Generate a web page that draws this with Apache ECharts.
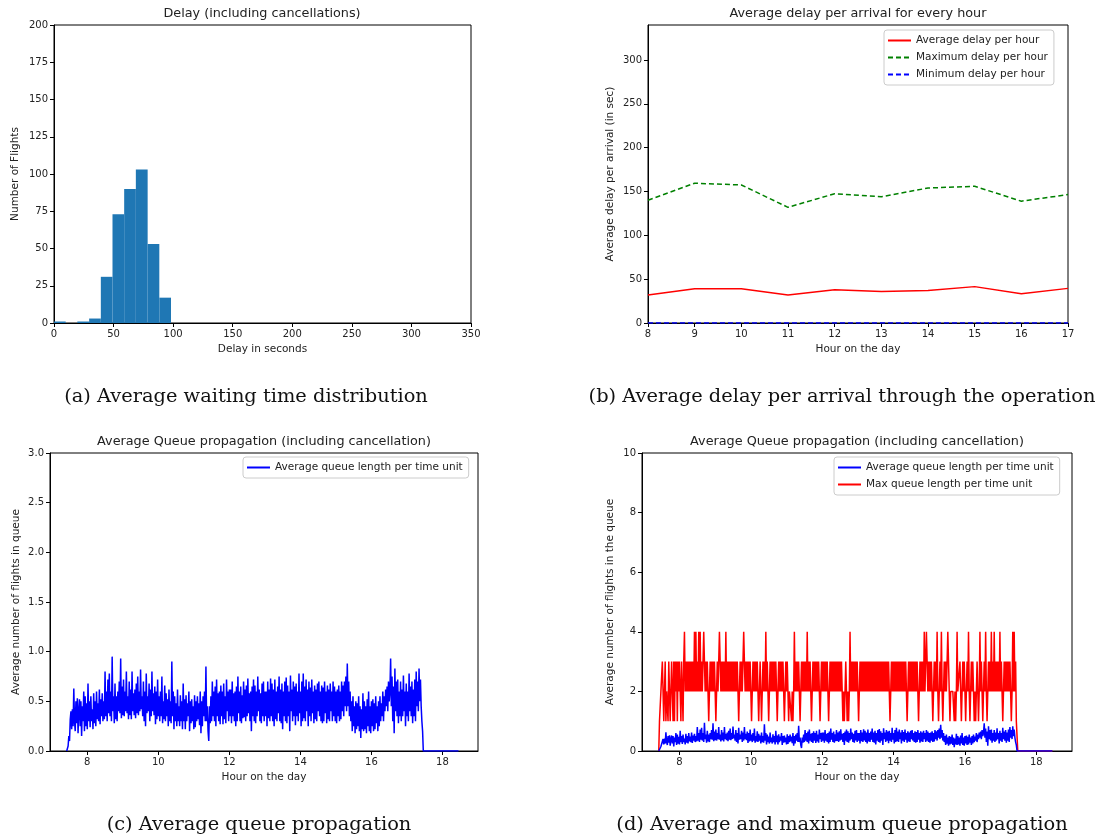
<!DOCTYPE html>
<html>
<head>
<meta charset="utf-8">
<script src="https://cdn.jsdelivr.net/npm/echarts@6/dist/echarts.min.js"></script>
<style>
  html, body { margin: 0; padding: 0; background: #fff; }
  #main { width: 1101px; height: 838px; }
</style>
</head>
<body>
<div id="main"></div>
<script>
// (a) delay histogram: bin edges in seconds and flight counts per bin
const delayBinEdges = [0, 9.8, 19.6, 29.5, 39.3, 49.1, 58.9, 68.7, 78.6, 88.4, 98.2];
const delayCounts = [1, 0, 1, 3, 31, 73, 90, 103, 53, 17];

// (b) delay per hour
const hours = [8, 9, 10, 11, 12, 13, 14, 15, 16, 17];
const avgDelay = [32, 39, 39, 32, 38, 36, 37, 41.5, 33.5, 39.5];
const maxDelay = [140, 159.5, 157.5, 132, 147.5, 144, 154, 156, 139, 146.5];
const minDelay = [0, 0, 0, 0, 0, 0, 0, 0, 0, 0];

// (c)/(d) queue length, one sample every 0.02 h starting at 7.42 h,
// the empty queue then stays at 0 until 18.45 h
const queueStart = 7.42;
const queueStep = 0.02;
const queueTailHour = 18.45;
const queueTailValue = 0;
const avgQueue = [
  0, 0, 0.05, 0.15, 0.1, 0.32, 0.4, 0.22, 0.42, 0.25,
  0.63, 0.3, 0.2, 0.5, 0.28, 0.53, 0.18, 0.4, 0.52, 0.25,
  0.5, 0.15, 0.45, 0.3, 0.6, 0.2, 0.55, 0.25, 0.48, 0.22,
  0.68, 0.3, 0.5, 0.24, 0.55, 0.3, 0.42, 0.22, 0.58, 0.28,
  0.5, 0.25, 0.6, 0.32, 0.48, 0.3, 0.62, 0.27, 0.52, 0.35,
  0.58, 0.3, 0.5, 0.32, 0.8, 0.35, 0.6, 0.3, 0.72, 0.38,
  0.78, 0.35, 0.6, 0.3, 0.95, 0.4, 0.55, 0.28, 0.68, 0.32,
  0.55, 0.3, 0.6, 0.4, 0.7, 0.38, 0.93, 0.33, 0.65, 0.36,
  0.72, 0.35, 0.6, 0.4, 0.8, 0.38, 0.55, 0.32, 0.7, 0.36,
  0.62, 0.32, 0.8, 0.4, 0.58, 0.36, 0.62, 0.33, 0.68, 0.38,
  0.75, 0.36, 0.6, 0.4, 0.82, 0.42, 0.55, 0.35, 0.7, 0.3,
  0.6, 0.25, 0.78, 0.38, 0.55, 0.4, 0.68, 0.3, 0.62, 0.35,
  0.8, 0.4, 0.58, 0.36, 0.65, 0.27, 0.6, 0.32, 0.72, 0.35,
  0.55, 0.3, 0.6, 0.35, 0.75, 0.28, 0.5, 0.32, 0.66, 0.3,
  0.58, 0.35, 0.52, 0.25, 0.62, 0.3, 0.5, 0.28, 0.9, 0.35,
  0.6, 0.22, 0.55, 0.3, 0.48, 0.25, 0.62, 0.3, 0.45, 0.25,
  0.56, 0.3, 0.5, 0.22, 0.68, 0.3, 0.52, 0.22, 0.56, 0.3,
  0.48, 0.35, 0.6, 0.2, 0.5, 0.28, 0.52, 0.3, 0.45, 0.22,
  0.56, 0.24, 0.5, 0.3, 0.55, 0.32, 0.48, 0.26, 0.6, 0.18,
  0.5, 0.25, 0.55, 0.35, 0.6, 0.3, 0.85, 0.3, 0.45, 0.2,
  0.1, 0.45, 0.28, 0.55, 0.3, 0.7, 0.35, 0.6, 0.3, 0.65,
  0.25, 0.72, 0.35, 0.58, 0.3, 0.6, 0.27, 0.66, 0.35, 0.6,
  0.27, 0.68, 0.32, 0.55, 0.28, 0.72, 0.4, 0.6, 0.3, 0.62,
  0.35, 0.62, 0.28, 0.7, 0.35, 0.58, 0.3, 0.6, 0.25, 0.65,
  0.3, 0.75, 0.38, 0.6, 0.3, 0.65, 0.28, 0.56, 0.33, 0.7,
  0.34, 0.62, 0.3, 0.66, 0.35, 0.73, 0.38, 0.58, 0.3, 0.6,
  0.2, 0.65, 0.35, 0.72, 0.3, 0.66, 0.28, 0.6, 0.35, 0.75,
  0.4, 0.62, 0.3, 0.58, 0.28, 0.68, 0.35, 0.7, 0.3, 0.6,
  0.35, 0.6, 0.25, 0.7, 0.33, 0.62, 0.3, 0.73, 0.35, 0.68,
  0.3, 0.62, 0.25, 0.72, 0.32, 0.6, 0.3, 0.65, 0.38, 0.75,
  0.3, 0.62, 0.28, 0.68, 0.22, 0.6, 0.35, 0.7, 0.3, 0.74,
  0.28, 0.66, 0.35, 0.6, 0.2, 0.76, 0.4, 0.62, 0.3, 0.7,
  0.35, 0.65, 0.26, 0.68, 0.35, 0.6, 0.3, 0.78, 0.38, 0.6,
  0.25, 0.7, 0.3, 0.78, 0.33, 0.65, 0.3, 0.72, 0.4, 0.62,
  0.25, 0.7, 0.35, 0.64, 0.3, 0.72, 0.38, 0.6, 0.28, 0.66,
  0.32, 0.62, 0.3, 0.68, 0.4, 0.7, 0.35, 0.6, 0.3, 0.66,
  0.28, 0.64, 0.3, 0.7, 0.38, 0.6, 0.28, 0.66, 0.32, 0.62,
  0.3, 0.68, 0.4, 0.6, 0.3, 0.7, 0.35, 0.65, 0.3, 0.6,
  0.28, 0.62, 0.35, 0.66, 0.3, 0.6, 0.32, 0.7, 0.4, 0.66,
  0.35, 0.7, 0.45, 0.75, 0.4, 0.88, 0.45, 0.7, 0.35, 0.6,
  0.3, 0.5, 0.2, 0.55, 0.25, 0.45, 0.18, 0.5, 0.22, 0.48,
  0.25, 0.55, 0.2, 0.45, 0.13, 0.42, 0.22, 0.58, 0.2, 0.5,
  0.22, 0.45, 0.18, 0.52, 0.25, 0.6, 0.2, 0.45, 0.18, 0.5,
  0.25, 0.52, 0.2, 0.48, 0.22, 0.55, 0.28, 0.45, 0.2, 0.5,
  0.25, 0.55, 0.3, 0.48, 0.35, 0.6, 0.3, 0.55, 0.4, 0.62,
  0.45, 0.65, 0.4, 0.7, 0.5, 0.6, 0.93, 0.45, 0.75, 0.3,
  0.65, 0.18, 0.83, 0.4, 0.7, 0.35, 0.72, 0.28, 0.6, 0.35,
  0.7, 0.3, 0.62, 0.35, 0.76, 0.4, 0.6, 0.25, 0.68, 0.35,
  0.6, 0.3, 0.78, 0.4, 0.65, 0.35, 0.7, 0.28, 0.62, 0.35,
  0.72, 0.3, 0.8, 0.45, 0.7, 0.4, 0.83, 0.5, 0.72, 0.45,
  0.3, 0.2, 0, 0, 0, 0
];
const maxQueue = [
  0, 1, 1, 2, 2, 3, 3, 1, 2, 3,
  1, 2, 2, 1, 3, 3, 1, 2, 3, 2,
  1, 3, 1, 3, 2, 3, 1, 3, 2, 3,
  2, 1, 3, 2, 1, 3, 4, 2, 3, 2,
  3, 2, 3, 2, 3, 2, 3, 2, 3, 2,
  4, 2, 4, 2, 3, 2, 4, 2, 4, 2,
  3, 2, 3, 4, 3, 2, 3, 2, 3, 2,
  1, 2, 3, 2, 3, 2, 3, 2, 3, 2,
  1, 2, 3, 2, 3, 4, 3, 2, 3, 2,
  3, 2, 3, 2, 4, 2, 3, 2, 3, 2,
  3, 2, 3, 2, 3, 2, 3, 2, 3, 2,
  3, 2, 1, 2, 3, 2, 3, 2, 3, 4,
  3, 2, 3, 2, 3, 2, 3, 2, 3, 2,
  1, 2, 3, 2, 3, 2, 3, 2, 3, 2,
  1, 2, 3, 2, 1, 2, 3, 2, 3, 2,
  4, 2, 3, 2, 1, 2, 3, 2, 3, 2,
  3, 2, 3, 2, 3, 2, 1, 2, 3, 2,
  3, 2, 3, 2, 3, 2, 1, 2, 3, 2,
  3, 2, 1, 2, 2, 2, 1, 2, 1, 2,
  4, 2, 3, 2, 3, 2, 3, 2, 1, 2,
  3, 2, 3, 2, 3, 2, 3, 2, 4, 2,
  3, 2, 3, 2, 1, 2, 3, 2, 3, 2,
  3, 2, 3, 2, 3, 2, 1, 2, 3, 2,
  3, 2, 3, 2, 3, 2, 3, 2, 1, 2,
  3, 2, 3, 2, 3, 2, 3, 2, 3, 2,
  3, 2, 3, 2, 3, 2, 3, 2, 1, 2,
  1, 2, 3, 2, 1, 2, 1, 2, 4, 2,
  3, 2, 3, 2, 3, 2, 3, 2, 3, 2,
  1, 2, 3, 2, 3, 2, 3, 2, 3, 2,
  3, 2, 3, 2, 3, 2, 3, 2, 3, 2,
  3, 2, 3, 2, 3, 2, 3, 2, 3, 2,
  3, 2, 3, 2, 3, 2, 3, 2, 3, 2,
  3, 2, 3, 2, 1, 2, 3, 2, 3, 2,
  3, 2, 3, 2, 3, 2, 3, 2, 3, 2,
  3, 2, 3, 2, 3, 2, 3, 2, 1, 2,
  3, 2, 3, 2, 3, 2, 3, 2, 3, 2,
  3, 2, 3, 2, 1, 2, 3, 2, 3, 2,
  3, 2, 4, 2, 3, 4, 3, 2, 3, 2,
  3, 2, 3, 2, 1, 2, 3, 2, 3, 2,
  4, 2, 1, 2, 3, 2, 4, 2, 1, 2,
  3, 2, 3, 2, 3, 4, 3, 2, 1, 2,
  2, 2, 2, 2, 1, 2, 1, 2, 4, 2,
  2, 2, 3, 2, 1, 2, 3, 2, 3, 2,
  1, 2, 3, 2, 4, 2, 1, 2, 3, 2,
  3, 2, 1, 2, 1, 2, 3, 2, 1, 2,
  4, 2, 3, 2, 1, 2, 3, 2, 4, 2,
  1, 2, 3, 2, 3, 2, 4, 2, 3, 2,
  4, 2, 3, 2, 3, 2, 3, 2, 4, 2,
  3, 2, 1, 2, 3, 2, 3, 2, 3, 2,
  3, 2, 3, 2, 1, 2, 4, 2, 4, 2,
  3, 1, 1, 0, 0, 0
];

const hourTicks = [8, 10, 12, 14, 16, 18];
const delayTicks = [0, 50, 100, 150, 200, 250, 300];

const withTime = arr => arr.map((v, i) => [queueStart + i * queueStep, v])
  .concat([[queueTailHour, queueTailValue]]);
const pairs = (xs, ys) => xs.map((x, i) => [x, ys[i]]);

const ink = '#222';
function axis(gridIndex, extra) {
  return Object.assign({
    type: 'value',
    gridIndex: gridIndex,
    nameLocation: 'middle',
    nameTextStyle: { color: ink, fontSize: 10.5 },
    axisLine: { show: true, onZero: false, lineStyle: { color: '#000', width: 1 } },
    axisTick: { show: true, length: 4, lineStyle: { color: '#000' } },
    axisLabel: { color: ink, fontSize: 10, margin: 6 },
    splitLine: { show: false }
  }, extra);
}
const customTicks = values => ({
  axisTick: { show: true, length: 4, lineStyle: { color: '#000' }, customValues: values },
  axisLabel: { color: ink, fontSize: 10, margin: 6, customValues: values }
});

const chart = echarts.init(document.getElementById('main'));

const legendBase = {
  orient: 'vertical',
  itemWidth: 23,
  itemHeight: 10,
  itemGap: 6,
  padding: [5, 6, 5, 3],
  borderColor: '#ccc',
  borderWidth: 1,
  borderRadius: 3,
  backgroundColor: 'rgba(255,255,255,0.8)',
  itemStyle: { opacity: 0 },
  textStyle: { fontSize: 10.5, color: ink }
};

const option = {
  animation: false,
  backgroundColor: '#fff',
  textStyle: { fontFamily: 'DejaVu Sans' },
  title: [
    { text: 'Delay (including cancellations)', left: 262, top: 7 },
    { text: 'Average delay per arrival for every hour', left: 858, top: 7 },
    { text: 'Average Queue propagation (including cancellation)', left: 264, top: 435 },
    { text: 'Average Queue propagation (including cancellation)', left: 857, top: 435 }
  ].map(t => Object.assign(t, {
    textAlign: 'center', padding: 0,
    textStyle: { fontSize: 12.8, fontWeight: 'normal', color: ink }
  })),
  legend: [
    Object.assign({}, legendBase, {
      left: 884, top: 30,
      data: ['Average delay per hour', 'Maximum delay per hour', 'Minimum delay per hour']
    }),
    Object.assign({}, legendBase, {
      left: 243, top: 457,
      data: ['Average queue length per time unit']
    }),
    Object.assign({}, legendBase, {
      left: 834, top: 457,
      data: ['Average queue length per time unit', 'Max queue length per time unit']
    })
  ],
  grid: [
    { left: 54, top: 25, width: 417, height: 298 },
    { left: 648, top: 25, width: 420, height: 298 },
    { left: 50, top: 453, width: 428, height: 298 },
    { left: 642, top: 453, width: 430, height: 298 }
  ].map(g => Object.assign(g, { show: true, borderColor: '#000', borderWidth: 1, containLabel: false })),
  xAxis: [
    axis(0, { min: 0, max: 350, interval: 50, name: 'Delay in seconds', nameGap: 21 }),
    axis(1, { min: 8, max: 17, interval: 1, name: 'Hour on the day', nameGap: 21 }),
    axis(2, Object.assign({ min: 6.95, max: 19.0, name: 'Hour on the day', nameGap: 21 }, customTicks(hourTicks))),
    axis(3, Object.assign({ min: 6.95, max: 19.0, name: 'Hour on the day', nameGap: 21 }, customTicks(hourTicks)))
  ],
  yAxis: [
    axis(0, { min: 0, max: 200, interval: 25, name: 'Number of Flights', nameGap: 33 }),
    axis(1, Object.assign({ min: 0, max: 340, name: 'Average delay per arrival (in sec)', nameGap: 32 }, customTicks(delayTicks))),
    axis(2, {
      min: 0, max: 3, interval: 0.5, name: 'Average number of flights in queue', nameGap: 28,
      axisLabel: { color: ink, fontSize: 10, margin: 6, formatter: v => v.toFixed(1) }
    }),
    axis(3, { min: 0, max: 10, interval: 2, name: 'Average number of flights in the queue', nameGap: 26 })
  ],
  series: [
    {
      type: 'custom',
      xAxisIndex: 0, yAxisIndex: 0,
      data: delayCounts.map((c, i) => [delayBinEdges[i], delayBinEdges[i + 1], c]),
      encode: { x: [0, 1], y: 2 },
      renderItem: function (params, api) {
        const p0 = api.coord([api.value(0), api.value(2)]);
        const p1 = api.coord([api.value(1), 0]);
        return {
          type: 'rect',
          shape: { x: p0[0], y: p0[1], width: p1[0] - p0[0], height: p1[1] - p0[1] },
          style: { fill: '#1f77b4' }
        };
      }
    },
    {
      name: 'Average delay per hour', type: 'line', xAxisIndex: 1, yAxisIndex: 1,
      data: pairs(hours, avgDelay), showSymbol: false, symbol: 'none',
      lineStyle: { color: '#ff0000', width: 1.5 }, itemStyle: { color: '#ff0000' }
    },
    {
      name: 'Maximum delay per hour', type: 'line', xAxisIndex: 1, yAxisIndex: 1,
      data: pairs(hours, maxDelay), showSymbol: false, symbol: 'none',
      lineStyle: { color: '#008000', width: 1.5, type: [5, 3] }, itemStyle: { color: '#008000' }
    },
    {
      name: 'Minimum delay per hour', type: 'line', xAxisIndex: 1, yAxisIndex: 1,
      data: pairs(hours, minDelay), showSymbol: false, symbol: 'none',
      lineStyle: { color: '#0000ff', width: 1.5, type: [5, 3] }, itemStyle: { color: '#0000ff' }
    },
    {
      name: 'Average queue length per time unit', type: 'line', xAxisIndex: 2, yAxisIndex: 2,
      data: withTime(avgQueue), showSymbol: false, symbol: 'none',
      lineStyle: { color: '#0000ff', width: 1.5 }, itemStyle: { color: '#0000ff' }
    },
    {
      name: 'Max queue length per time unit', type: 'line', xAxisIndex: 3, yAxisIndex: 3,
      data: withTime(maxQueue), showSymbol: false, symbol: 'none',
      lineStyle: { color: '#ff0000', width: 1.5 }, itemStyle: { color: '#ff0000' }
    },
    {
      name: 'Average queue length per time unit', type: 'line', xAxisIndex: 3, yAxisIndex: 3,
      data: withTime(avgQueue), showSymbol: false, symbol: 'none', z: 3,
      lineStyle: { color: '#0000ff', width: 1.5 }, itemStyle: { color: '#0000ff' }
    }
  ],
  graphic: [
    { x: 246, y: 397, text: '(a) Average waiting time distribution' },
    { x: 842, y: 397, text: '(b) Average delay per arrival through the operation' },
    { x: 259, y: 825, text: '(c) Average queue propagation' },
    { x: 842, y: 825, text: '(d) Average and maximum queue propagation' }
  ].map(c => ({
    type: 'text', x: c.x, y: c.y,
    style: {
      text: c.text, fill: '#111', font: '19.4px "DejaVu Serif"',
      align: 'center', verticalAlign: 'middle'
    }
  }))
};

chart.setOption(option);
</script>
</body>
</html>
